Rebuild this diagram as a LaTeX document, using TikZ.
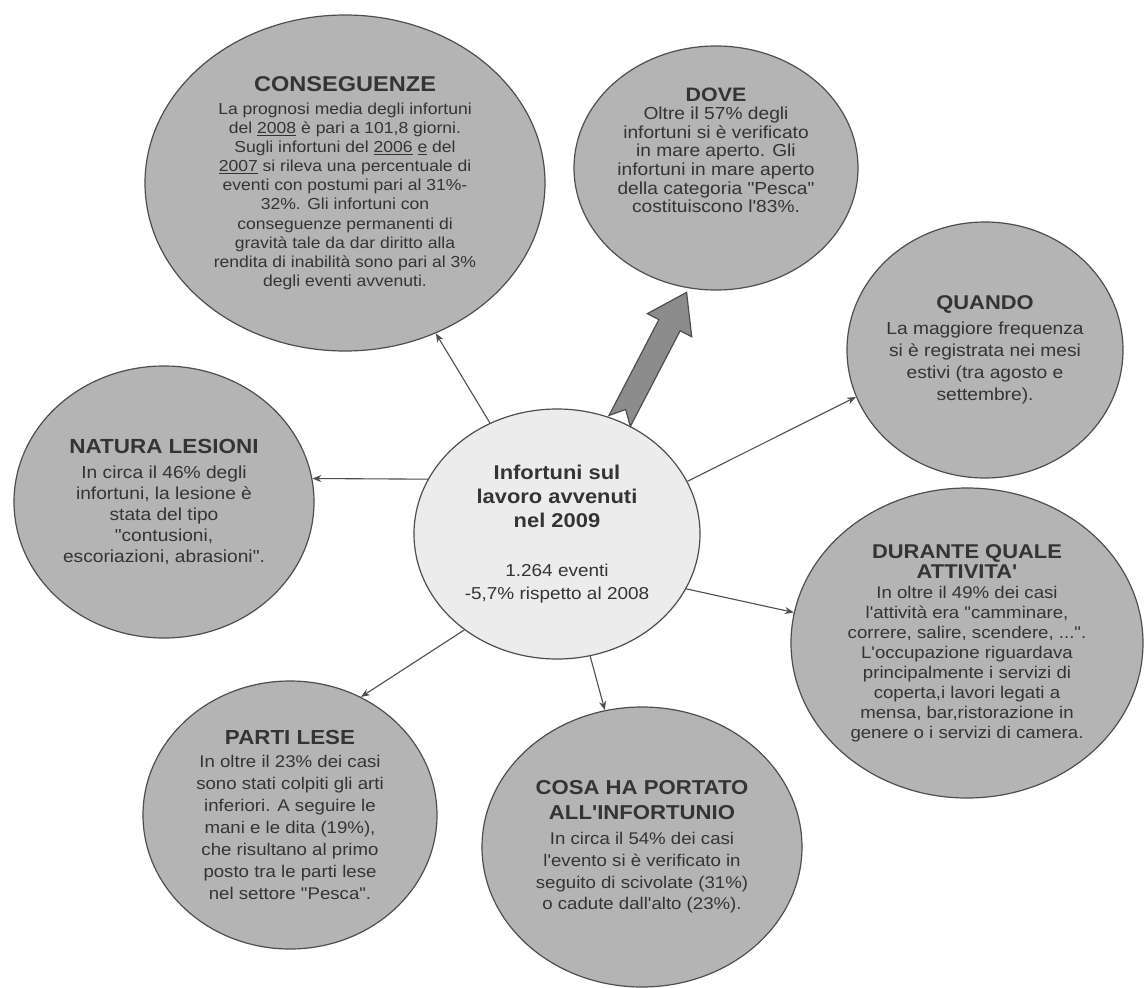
\documentclass[tikz,border=0pt]{standalone}
\usepackage{fontspec}
\newfontfamily\bubblefont{Liberation Sans}[FakeStretch=1.1]
\usepackage{tikz}
\usetikzlibrary{positioning,arrows.meta,shapes.geometric}
\definecolor{bubblefill}{RGB}{180,180,180}
\definecolor{hubfill}{RGB}{236,236,236}
\definecolor{rimline}{RGB}{78,78,78}
\definecolor{inktext}{RGB}{52,52,52}
\definecolor{fatfill}{RGB}{140,140,140}
\tikzset{
  bubble/.style   = {ellipse, inner sep=-90bp, align=center,
                     fill=bubblefill, draw=rimline, line width=1.2bp, text=inktext},
  hubnode/.style  = {ellipse, inner sep=-90bp, align=center,
                     fill=hubfill, draw=rimline, line width=1.2bp, text=inktext},
  spoke/.style    = {-{Stealth[length=9bp, width=7bp]}, line width=1.1bp, rimline},
  fatspoke/.style = {fill=fatfill, draw=rimline, line width=1.2bp, line join=miter}
}
\newcommand{\bubsize}[2]{\bubblefont\fontsize{#1}{#2}\selectfont}
\newcommand{\bubhead}[2]{{\fontsize{#1}{#1}\selectfont\bfseries #2}}

\begin{document}
\begin{tikzpicture}[x=1bp, y=1bp]
  \fill[white] (0,0) rectangle (1147,-988);
  \useasboundingbox (0,0) rectangle (1147,-988);
  % Hub
  \node[hubnode, minimum width=286bp, minimum height=250bp, font=\bubsize{17.3}{23}] (hub) at (557,-534)
    {\bubhead{20}{Infortuni sul}\\[1bp]
     \bubhead{20}{lavoro avvenuti}\\[1bp]
     \bubhead{20}{nel 2009}\\[26bp]
     1.264 eventi\\
     -5,7\% rispetto al 2008};
  % Outer bubbles, clockwise from top left
  \node[bubble, minimum width=400bp, minimum height=336bp, font=\bubsize{16}{19.2}] (cons) at (345,-183)
    {\bubhead{21.5}{CONSEGUENZE}\\[4bp]
     La prognosi media degli infortuni\\
     del \underline{2008} è pari a 101,8 giorni.\\
     Sugli infortuni del \underline{2006} \underline{e} del\\
     \underline{2007} si rileva una percentuale di\\
     eventi con postumi pari al 31\%-\\
     32\%. Gli infortuni con\\
     conseguenze permanenti di\\
     gravità tale da dar diritto alla\\
     rendita di inabilità sono pari al 3\%\\
     degli eventi avvenuti.};
  \node[bubble, minimum width=284bp, minimum height=244bp, font=\bubsize{17.5}{18.7}] (dove) at (716,-168)
    {\bubhead{19.5}{DOVE}\\
     Oltre il 57\% degli\\
     infortuni si è verificato\\
     in mare aperto. Gli\\
     infortuni in mare aperto\\
     della categoria "Pesca"\\
     costituiscono l'83\%.\\[17bp]
     \mbox{}};
  \node[bubble, minimum width=276bp, minimum height=256bp, font=\bubsize{17.5}{22}] (quando) at (985,-350)
    {\bubhead{20}{QUANDO}\\[3bp]
     La maggiore frequenza\\
     si è registrata nei mesi\\
     estivi (tra agosto e\\
     settembre).};
  \node[bubble, minimum width=352bp, minimum height=310bp, font=\bubsize{17}{20}] (dur) at (967,-643)
    {\bubhead{20}{DURANTE QUALE}\\[1bp]
     \bubhead{20}{ATTIVITA'}\\
     In oltre il 49\% dei casi\\
     l'attività era "camminare,\\
     correre, salire, scendere, ...".\\
     L'occupazione riguardava\\
     principalmente i servizi di\\
     coperta,i lavori legati a\\
     mensa, bar,ristorazione in\\
     genere o i servizi di camera.};
  \node[bubble, minimum width=320bp, minimum height=280bp, font=\bubsize{17}{21.7}] (cosa) at (642,-847)
    {\bubhead{20.2}{COSA HA PORTATO}\\[3bp]
     \bubhead{20.2}{ALL'INFORTUNIO}\\[4bp]
     In circa il 54\% dei casi\\
     l'evento si è verificato in\\
     seguito di scivolate (31\%)\\
     o cadute dall'alto (23\%).};
  \node[bubble, minimum width=294bp, minimum height=268bp, font=\bubsize{17}{22.2}] (parti) at (290,-815)
    {\bubhead{20.4}{PARTI LESE}\\[1bp]
     In oltre il 23\% dei casi\\
     sono stati colpiti gli arti\\
     inferiori. A seguire le\\
     mani e le dita (19\%),\\
     che risultano al primo\\
     posto tra le parti lese\\
     nel settore "Pesca".};
  \node[bubble, minimum width=300bp, minimum height=272bp, font=\bubsize{17.5}{21}] (nat) at (164,-502)
    {\bubhead{20.5}{NATURA LESIONI}\\[4bp]
     In circa il 46\% degli\\
     infortuni, la lesione è\\
     stata del tipo\\
     "contusioni,\\
     escoriazioni, abrasioni".};
  % Spokes
  \draw[spoke] (hub) -- (cons);
  \draw[spoke] (hub.157) -- (nat.9);
  \draw[spoke] (hub.22) -- (quando.200);
  \draw[spoke] (hub.-23) -- (dur.170);
  \draw[spoke] (hub.226) -- (parti.59);
  \draw[spoke] (hub) -- (cosa);
  % Block arrow towards DOVE
  \coordinate (fatbase) at (hub.61);
  \begin{scope}[shift={(fatbase)}, rotate=62.5]
    \draw[fatspoke] (0,12) -- (13,0) -- (0,-12) -- (108,-12) -- (108,-25)
      -- (145,0) -- (108,25) -- (108,12) -- cycle;
  \end{scope}
\end{tikzpicture}
\end{document}
